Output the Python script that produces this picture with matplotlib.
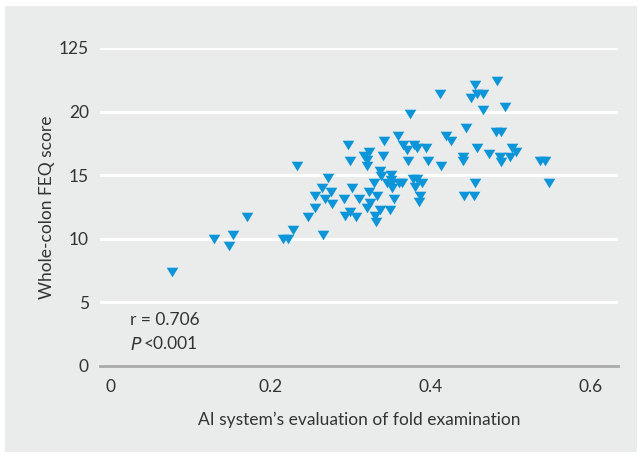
import matplotlib
matplotlib.use("Agg")
import matplotlib.pyplot as plt
from matplotlib.path import Path
from matplotlib.patches import Rectangle
import numpy as np

# Data
ai_eval = [0.077, 0.129, 0.148, 0.153, 0.171, 0.215, 0.222, 0.228, 0.233, 0.247,
           0.256, 0.256, 0.264, 0.268, 0.272, 0.265, 0.276, 0.277, 0.292, 0.293,
           0.299, 0.307, 0.302, 0.310, 0.320, 0.324, 0.323, 0.329, 0.333, 0.331,
           0.332, 0.337, 0.349, 0.354, 0.337, 0.338, 0.351, 0.351, 0.345, 0.351,
           0.360, 0.364, 0.352, 0.378, 0.383, 0.389, 0.381, 0.387, 0.385, 0.297,
           0.299, 0.342, 0.323, 0.317, 0.341, 0.320, 0.320, 0.359, 0.366, 0.379,
           0.371, 0.383, 0.394, 0.372, 0.397, 0.413, 0.374, 0.412, 0.419, 0.425,
           0.455, 0.483, 0.450, 0.458, 0.465, 0.493, 0.465, 0.444, 0.481, 0.488,
           0.458, 0.473, 0.502, 0.506, 0.499, 0.487, 0.488, 0.440, 0.441, 0.537,
           0.543, 0.548, 0.456, 0.442, 0.454]
feq_score = [7.4, 10.0, 9.4, 10.3, 11.7, 10.0, 10.0, 10.7, 15.7, 11.7,
             12.4, 13.4, 14.0, 13.1, 14.8, 10.3, 13.7, 12.7, 13.1, 11.8,
             12.1, 11.7, 14.0, 13.1, 12.4, 12.8, 13.7, 14.4, 13.4, 11.8,
             11.3, 12.3, 12.3, 13.1, 15.3, 14.9, 15.0, 14.6, 14.4, 14.3,
             14.4, 14.4, 14.0, 14.7, 14.7, 14.4, 14.1, 13.4, 12.9, 17.4,
             16.1, 17.7, 16.8, 16.5, 16.5, 16.2, 15.7, 18.1, 17.4, 17.4,
             17.0, 17.1, 17.1, 16.1, 16.1, 15.7, 19.8, 21.4, 18.1, 17.7,
             22.1, 22.4, 21.1, 21.4, 21.4, 20.4, 20.1, 18.7, 18.4, 18.4,
             17.1, 16.7, 17.1, 16.8, 16.4, 16.4, 16.0, 16.4, 16.1, 16.1,
             16.1, 14.4, 14.4, 13.4, 13.4]

y_ticks = [0, 5, 10, 15, 20, 25]
y_tick_labels = ["0", "5", "10", "15", "20", "125"]
x_ticks = [0, 0.2, 0.4, 0.6]
x_tick_labels = ["0", "0.2", "0.4", "0.6"]

plt.rcParams['font.family'] = ['Lato', 'DejaVu Sans']
text_color = '#333333'
bg = '#eaebeb'
marker_color = '#0c95d8'

fig = plt.figure(figsize=(6.42, 4.58), dpi=100)
fig.patch.set_facecolor('white')
fig.patches.append(Rectangle((5/642, 6/458), 632/642, 446/458, transform=fig.transFigure,
                             facecolor=bg, edgecolor='none', zorder=-10))

W, H = 642, 458
ax = fig.add_axes([100/W, (H-366)/H, 518/W, 318/H])
ax.set_facecolor(bg)
ax.patch.set_alpha(0)

tri = Path([(-1, 0.82), (1, 0.82), (0, -0.82), (-1, 0.82)],
           [Path.MOVETO, Path.LINETO, Path.LINETO, Path.CLOSEPOLY])
ax.plot(ai_eval, feq_score, linestyle='none', marker=tri, markersize=8.4,
        color=marker_color, markeredgewidth=0, zorder=3)

ax.set_xlim(-0.013, 0.634)
ax.set_ylim(0, 25)
ax.set_yticks(y_ticks)
ax.set_yticklabels(y_tick_labels)
ax.set_xticks(x_ticks)
ax.set_xticklabels(x_tick_labels)
ax.yaxis.grid(True, color='white', linewidth=2.2, zorder=0)
ax.set_axisbelow(True)
for s in ['top', 'right', 'left']:
    ax.spines[s].set_visible(False)
ax.spines['bottom'].set_color('#a9a9a9')
ax.spines['bottom'].set_linewidth(2)
ax.tick_params(axis='both', length=0, labelsize=12.5, colors=text_color)
ax.tick_params(axis='y', pad=8)
ax.tick_params(axis='x', pad=9)

ax.set_xlabel("AI system\u2019s evaluation of fold examination", fontsize=12.5,
              color=text_color, labelpad=12)
ax.set_ylabel("Whole-colon FEQ score", fontsize=12.5, color=text_color, labelpad=3)

ax.text(0.024, 3.6, "r = 0.706", fontsize=12.5, color=text_color, va='center')
ax.text(0.024, 1.7, r"$\it{P}$", fontsize=12.5, color=text_color, va='center')
ax.text(0.041, 1.7, "<0.001", fontsize=12.5, color=text_color, va='center')

fig.savefig("out.png", dpi=100, facecolor='white')
